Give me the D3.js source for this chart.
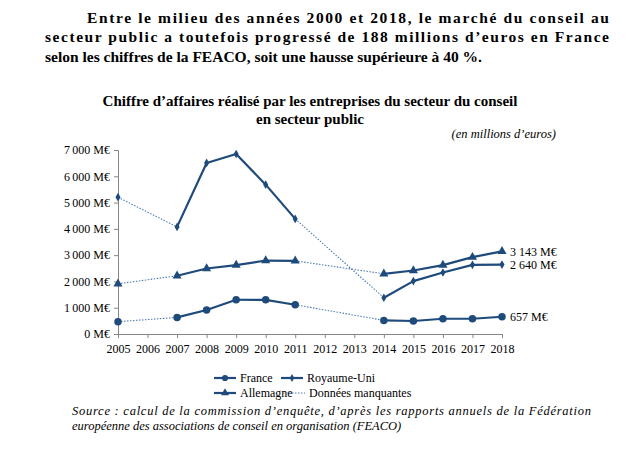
<!DOCTYPE html>
<html><head><meta charset="utf-8">
<script src="https://cdn.jsdelivr.net/npm/d3@7"></script>
<style>
html,body{margin:0;padding:0;background:#fff;}
svg text{font-family:"Liberation Serif",serif;fill:#000;}
</style></head><body>
<svg id="c" width="630" height="449"></svg>
<script>
const years = ["2005","2006","2007","2008","2009","2010","2011","2012","2013","2014","2015","2016","2017","2018"];
const france =    [469, null, 630, 911, 1303, 1300, 1113, null, null, 517, 494, 581, 581, 657];
const royaumeUni = [5203, null, 4075, 6506, 6848, 5682, 4379, null, null, 1379, 2013, 2340, 2632, 2640];
const allemagne = [1910, null, 2214, 2491, 2620, 2795, 2784, null, null, 2290, 2415, 2620, 2924, 3143];
const yTicks = [0,1000,2000,3000,4000,5000,6000,7000];
const endLabels = ["657 M€","2 640 M€","3 143 M€"];
const headerLines = ["Entre le milieu des années 2000 et 2018, le marché du conseil au",
  "secteur public a toutefois progressé de 188 millions d’euros en France",
  "selon les chiffres de la FEACO, soit une hausse supérieure à 40 %."];
const titleLines = ["Chiffre d’affaires réalisé par les entreprises du secteur du conseil","en secteur public"];
const unitLabel = "(en millions d’euros)";
const legendNames = ["France","Royaume-Uni","Allemagne","Données manquantes"];
const sourceLines = ["Source : calcul de la commission d’enquête, d’après les rapports annuels de la Fédération",
  "européenne des associations de conseil en organisation (FEACO)"];

const FONT = '"Liberation Serif", serif';
const svg = d3.select("#c");
const navy = "#1f4a7c", dotCol = "#4f7db3", axisCol = "#868686";

// header
const hx = [[87,609,true],[45,609,true],[45,null,false]];
headerLines.forEach((t,i)=>{
  const el = svg.append("text").attr("x",hx[i][0]).attr("y",23+i*19.3)
    .attr("font-size",15.5).attr("font-weight","bold").text(t);
  if(hx[i][2]) el.attr("textLength",hx[i][1]-hx[i][0]).attr("lengthAdjust","spacing");
});
titleLines.forEach((t,i)=>{
  svg.append("text").attr("x",310).attr("y",106+i*18).attr("text-anchor","middle")
    .attr("font-size",15).attr("font-weight","bold").text(t);
});
svg.append("text").attr("x",556).attr("y",138).attr("text-anchor","end")
  .attr("font-size",12.5).attr("font-style","italic").text(unitLabel);

const x = d3.scalePoint().domain(years).range([118,502]);
const y = d3.scaleLinear().domain([0,7000]).range([334,150]);

const yAxis = svg.append("g").attr("transform","translate(118,0)")
  .call(d3.axisLeft(y).tickValues(yTicks).tickSize(4).tickPadding(4)
    .tickFormat(d=>d3.format(",")(d).replace(/,/g,"\u202f")+" M€"));
const xAxis = svg.append("g").attr("transform","translate(0,334)")
  .call(d3.axisBottom(x).tickSize(4).tickPadding(4));
[yAxis,xAxis].forEach(a=>{
  a.attr("font-family",FONT);
  a.select(".domain").attr("stroke",axisCol);
  a.selectAll(".tick line").attr("stroke",axisCol);
  a.selectAll("text").attr("font-size",12).attr("fill","#000").style("font-family",FONT);
});
xAxis.selectAll("text").attr("dy","0.95em");

const series = [
  {name:"France", vals:france, sym:d3.symbolCircle, size:44},
  {name:"Royaume-Uni", vals:royaumeUni, sym:d3.symbolDiamond, size:22},
  {name:"Allemagne", vals:allemagne, sym:d3.symbolTriangle, size:36}
];
series.forEach(s=>{
  const pts = years.map((yr,i)=>({y:yr,v:s.vals[i]}));
  const def = pts.filter(d=>d.v!=null);
  const seg = d3.line().x(d=>x(d.y)).y(d=>y(d.v));
  for(let k=1;k<def.length;k++){
    const a=def[k-1], b=def[k];
    if(years.indexOf(b.y)-years.indexOf(a.y)>1){
      svg.append("path").attr("d",seg([a,b]))
        .attr("fill","none").attr("stroke",dotCol).attr("stroke-width",1.1).attr("stroke-dasharray","1.5,1.5");
    }
  }
  for(let k=1;k<def.length;k++){
    const a=def[k-1], b=def[k];
    if(years.indexOf(b.y)-years.indexOf(a.y)===1){
      svg.append("path").attr("d",seg([a,b]))
        .attr("fill","none").attr("stroke",navy).attr("stroke-width",2.2).attr("stroke-linecap","round");
    }
  }
  svg.append("g").selectAll("path").data(def).join("path")
    .attr("transform",d=>`translate(${x(d.y)},${y(d.v)})`)
    .attr("d",d3.symbol().type(s.sym).size(s.size)).attr("fill",navy);
});
const endVals = [france[13], royaumeUni[13], allemagne[13]];
endLabels.forEach((t,i)=>{
  svg.append("text").attr("x",510).attr("y",y(endVals[i])).attr("dy","0.35em")
    .attr("font-size",12).text(t);
});

const leg = [
  {n:legendNames[0], x:214, y:378, sym:d3.symbolCircle, size:30, solid:true},
  {n:legendNames[1], x:281, y:378, sym:d3.symbolDiamond, size:18, solid:true},
  {n:legendNames[2], x:214, y:393, sym:d3.symbolTriangle, size:28, solid:true},
  {n:legendNames[3], x:283, y:393, sym:null, solid:false}
];
leg.forEach(l=>{
  const g = svg.append("g");
  g.append("line").attr("x1",l.x).attr("x2",l.x+22).attr("y1",l.y).attr("y2",l.y)
    .attr("stroke",l.solid?navy:dotCol).attr("stroke-width",l.solid?2.2:1.1)
    .attr("stroke-dasharray",l.solid?null:"1.5,1.5");
  if(l.sym) g.append("path").attr("transform",`translate(${l.x+11},${l.y})`)
    .attr("d",d3.symbol().type(l.sym).size(l.size)).attr("fill",navy);
  g.append("text").attr("x",l.x+26).attr("y",l.y).attr("dy","0.35em").attr("font-size",12).text(l.n);
});

sourceLines.forEach((t,i)=>{
  const el = svg.append("text").attr("x",72).attr("y",415+i*15).attr("font-size",12.5)
    .attr("font-style","italic").text(t);
  if(i===0) el.attr("textLength",591-72).attr("lengthAdjust","spacing");
});
</script></body></html>
